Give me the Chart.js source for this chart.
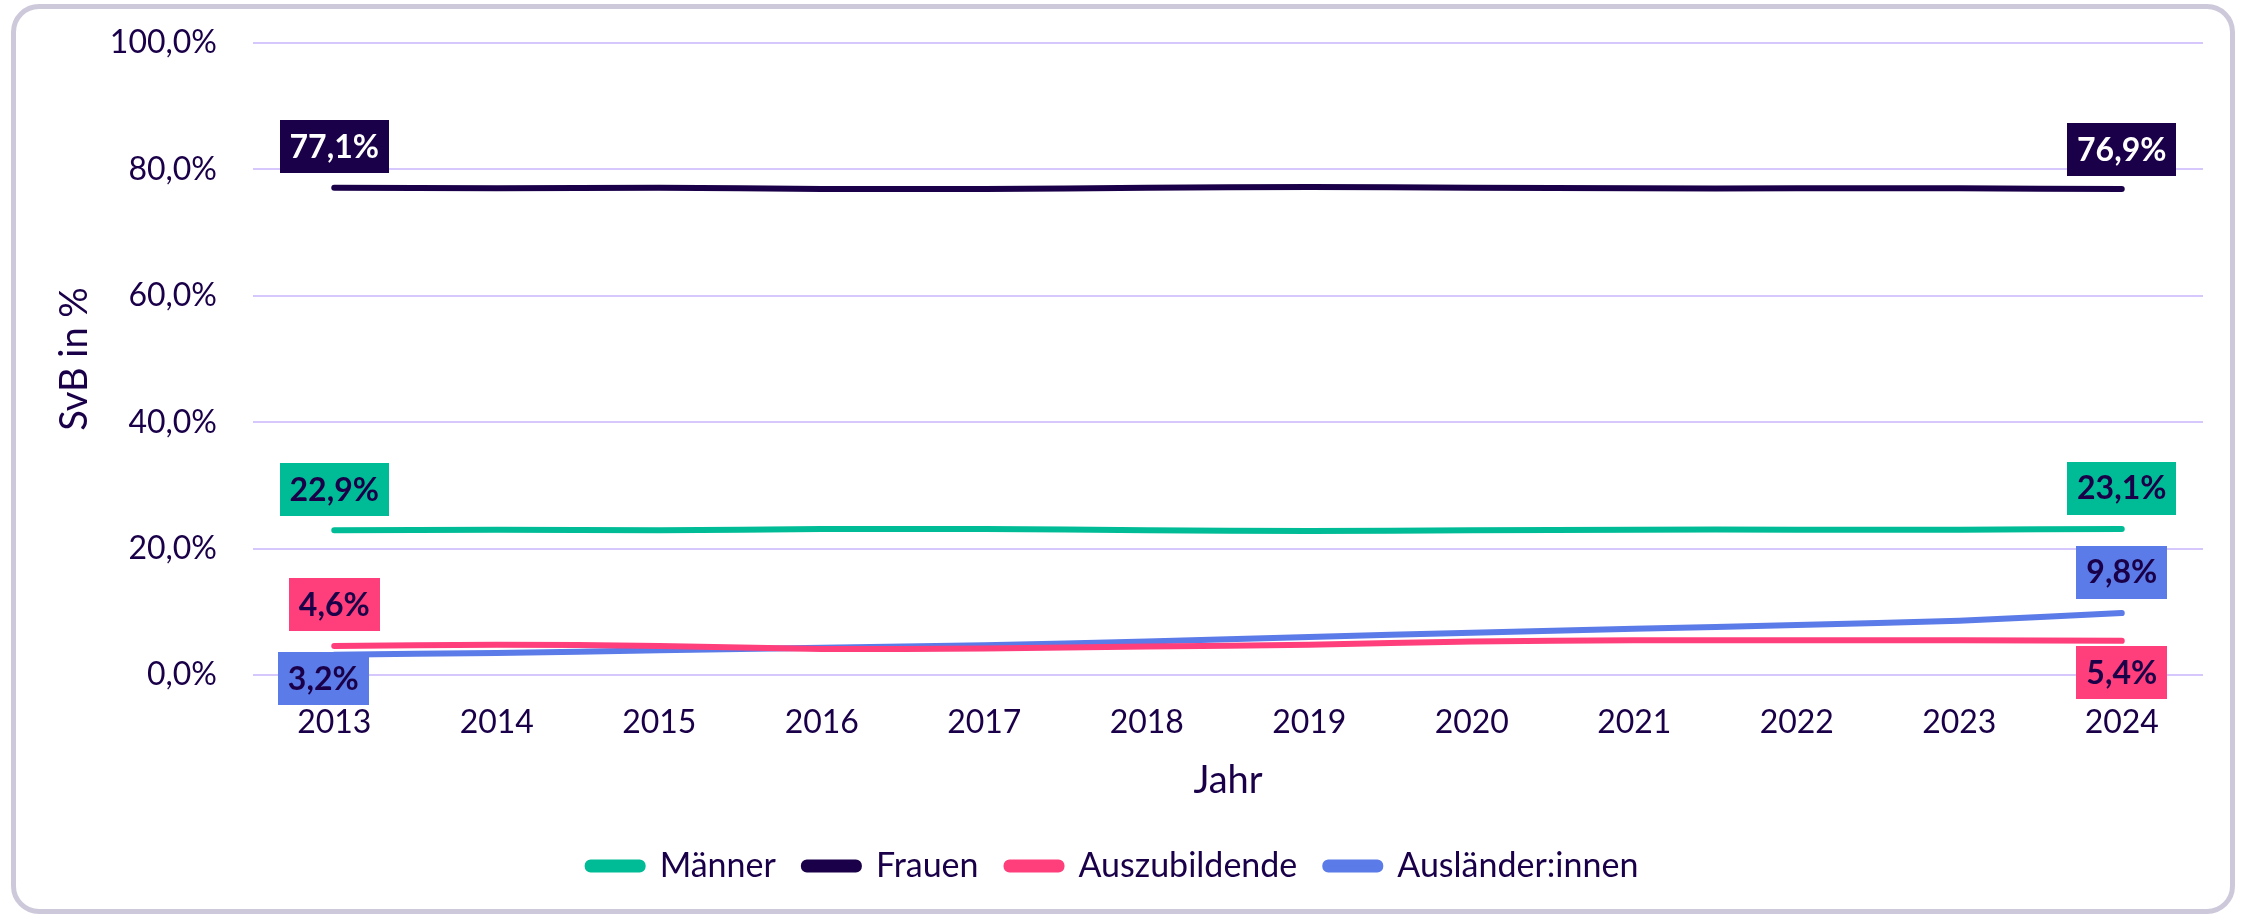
<!DOCTYPE html>
<html>
<head>
<meta charset="utf-8">
<script src="https://cdn.jsdelivr.net/npm/chart.js@4"></script>
<style>
  html, body { margin: 0; padding: 0; background: #fff; }
  #wrap { position: relative; width: 2242px; height: 916px; }
  #frame {
    position: absolute; left: 11px; top: 4px; width: 2224px; height: 910px;
    box-sizing: border-box; border: 5px solid #cdc9db; border-radius: 28px;
    pointer-events: none;
  }
  canvas { position: absolute; left: 0; top: 0; }
</style>
</head>
<body>
<div id="wrap">
  <canvas id="chart" width="2242" height="916"></canvas>
  <div id="frame"></div>
</div>
<script>
const years = ['2013', '2014', '2015', '2016', '2017', '2018', '2019', '2020', '2021', '2022', '2023', '2024'];
const maenner = [22.9, 23.0, 22.9, 23.1, 23.1, 22.9, 22.8, 22.9, 23.0, 23.0, 23.0, 23.1];
const frauen = [77.1, 77.0, 77.1, 76.9, 76.9, 77.1, 77.2, 77.1, 77.0, 77.0, 77.0, 76.9];
const azubis = [4.6, 4.8, 4.6, 4.1, 4.2, 4.5, 4.8, 5.3, 5.5, 5.5, 5.5, 5.4];
const auslaender = [3.2, 3.5, 3.9, 4.3, 4.7, 5.3, 6.0, 6.7, 7.3, 7.9, 8.6, 9.8];

const ink = '#1a0048';
const fontFamily = 'Lato, "Open Sans", sans-serif';

const fmt = (v) => v.toFixed(1).replace('.', ',') + '%';

// end-point labels: box colours and where each one sits relative to its point
const labelBoxes = [
  { bg: '#00bc96', fg: ink, first: { dx: 0, dy: -41 }, last: { dx: 0, dy: -41 } },
  { bg: ink, fg: '#ffffff', first: { dx: 0, dy: -41 }, last: { dx: 0, dy: -39 } },
  { bg: '#ff3f7c', fg: ink, first: { dx: 0, dy: -41 }, last: { dx: 0, dy: 32 } },
  { bg: '#5b7be8', fg: ink, first: { dx: -11, dy: 24 }, last: { dx: 0, dy: -41 } },
];

const endLabels = {
  id: 'endLabels',
  afterDatasetsDraw(chart) {
    const { ctx } = chart;
    ctx.save();
    ctx.font = `bold 32px ${fontFamily}`;
    ctx.textAlign = 'center';
    ctx.textBaseline = 'middle';
    chart.data.datasets.forEach((ds, i) => {
      const meta = chart.getDatasetMeta(i);
      const style = labelBoxes[i];
      const last = ds.data.length - 1;
      [[0, style.first], [last, style.last]].forEach(([idx, off]) => {
        const pt = meta.data[idx];
        const text = fmt(ds.data[idx]);
        const w = ctx.measureText(text).width + 20;
        const h = 53;
        const cx = pt.x + off.dx;
        const cy = pt.y + off.dy;
        ctx.fillStyle = style.bg;
        ctx.fillRect(Math.round(cx - w / 2), Math.round(cy - h / 2), Math.round(w), h);
        ctx.fillStyle = style.fg;
        ctx.fillText(text, cx, cy + 1);
      });
    });
    ctx.restore();
  },
};

const line = (label, data, color) => ({
  label,
  data,
  borderColor: color,
  backgroundColor: color,
  borderWidth: 6,
  borderCapStyle: 'round',
  pointRadius: 0,
  tension: 0.25,
});

Chart.defaults.font.family = fontFamily;
Chart.defaults.color = ink;

new Chart(document.getElementById('chart'), {
  type: 'line',
  data: {
    labels: years,
    datasets: [
      line('Männer', maenner, '#00bc96'),
      line('Frauen', frauen, ink),
      line('Auszubildende', azubis, '#ff3f7c'),
      line('Ausländer:innen', auslaender, '#5b7be8'),
    ],
  },
  options: {
    responsive: false,
    animation: false,
    devicePixelRatio: 1,
    layout: { padding: { left: 23, right: 39, top: 43, bottom: 23 } },
    plugins: {
      legend: {
        position: 'bottom',
        labels: {
          font: { size: 34 },
          color: ink,
          boxWidth: 55,
          boxHeight: 7,
          useBorderRadius: true,
          borderRadius: 3,
          padding: 28,
        },
      },
      tooltip: { enabled: false },
    },
    scales: {
      x: {
        offset: true,
        afterFit(scale) { scale.height = 146; },
        grid: { display: false, drawTicks: false },
        border: { display: false },
        ticks: { font: { size: 32 }, color: ink, padding: 28 },
        title: {
          display: true,
          text: 'Jahr',
          font: { size: 38 },
          color: ink,
          padding: { top: 10, bottom: 17 },
        },
      },
      y: {
        min: 0,
        max: 100,
        afterFit(scale) {
          scale.width = 230;
          scale.paddingTop = 0;
        },
        grid: { color: '#d6c8fc', lineWidth: 2, drawTicks: false },
        border: { display: false },
        ticks: {
          stepSize: 20,
          font: { size: 32 },
          color: ink,
          padding: 36,
          callback: (v) => fmt(v),
        },
        title: {
          display: true,
          text: 'SvB in %',
          font: { size: 38 },
          color: ink,
          padding: { top: 29, bottom: 0 },
        },
      },
    },
  },
  plugins: [endLabels],
});
</script>
</body>
</html>
